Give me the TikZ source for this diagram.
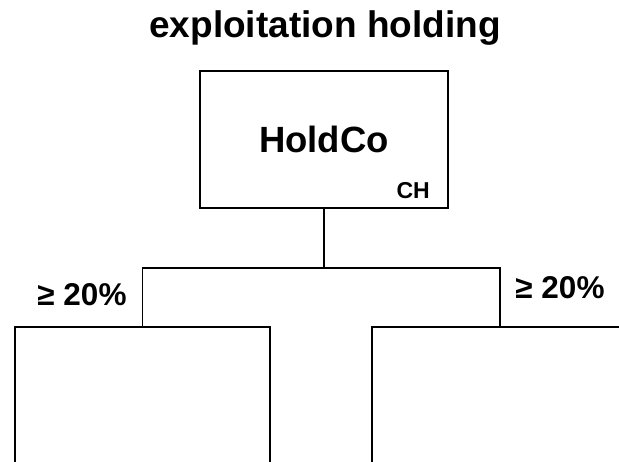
\documentclass[tikz,border=0pt]{standalone}
\usepackage{fontspec}
\setmainfont{Liberation Sans}
\usetikzlibrary{calc,positioning}
\tikzset{
    entity/.style={draw, line width=2.5pt, minimum width=#1, inner sep=0pt},
    entity/.default=248pt,
    link/.style={line width=1.6pt},
    share/.style={font=\fontsize{31.5}{36}\selectfont\bfseries}
}

\begin{document}
\begin{tikzpicture}[x=1pt,y=-1pt]
            % page frame, 619 x 462
            \useasboundingbox (0,0) rectangle (619,462);
            \clip (0,0) rectangle (619,462);
            % title
            \node (title) at (325,28) {\fontsize{37}{40}\selectfont\bfseries exploitation holding};
            % holding company
            \node [entity=248pt, minimum height=137pt] (hold) at (324,139.5)
                {\fontsize{36.5}{40}\selectfont\bfseries HoldCo};
            \node [anchor=base east, font=\fontsize{23}{24}\selectfont\bfseries] (country)
                at ($(hold.south east)+(-16,-11)$) {CH};
            % subsidiaries (cut off by the page)
            \node [entity=255pt, minimum height=220pt, anchor=north] (subA) at (142.5,326) {};
            \node [entity=256pt, minimum height=220pt, anchor=north] (subB) at (500,326) {};
            % ownership lines
            \coordinate (split) at ($(hold.south)+(0,59)$);
            \draw [link] (hold.south) -- (split);
            \draw [link] (subA.north) |- (split) -| (subB.north);
            \node [share] (shareA) at (82,295) {\char"2265{} 20\%};
            \node [share] (shareB) at (560,288) {\char"2265{} 20\%};
        \end{tikzpicture}
\end{document}
